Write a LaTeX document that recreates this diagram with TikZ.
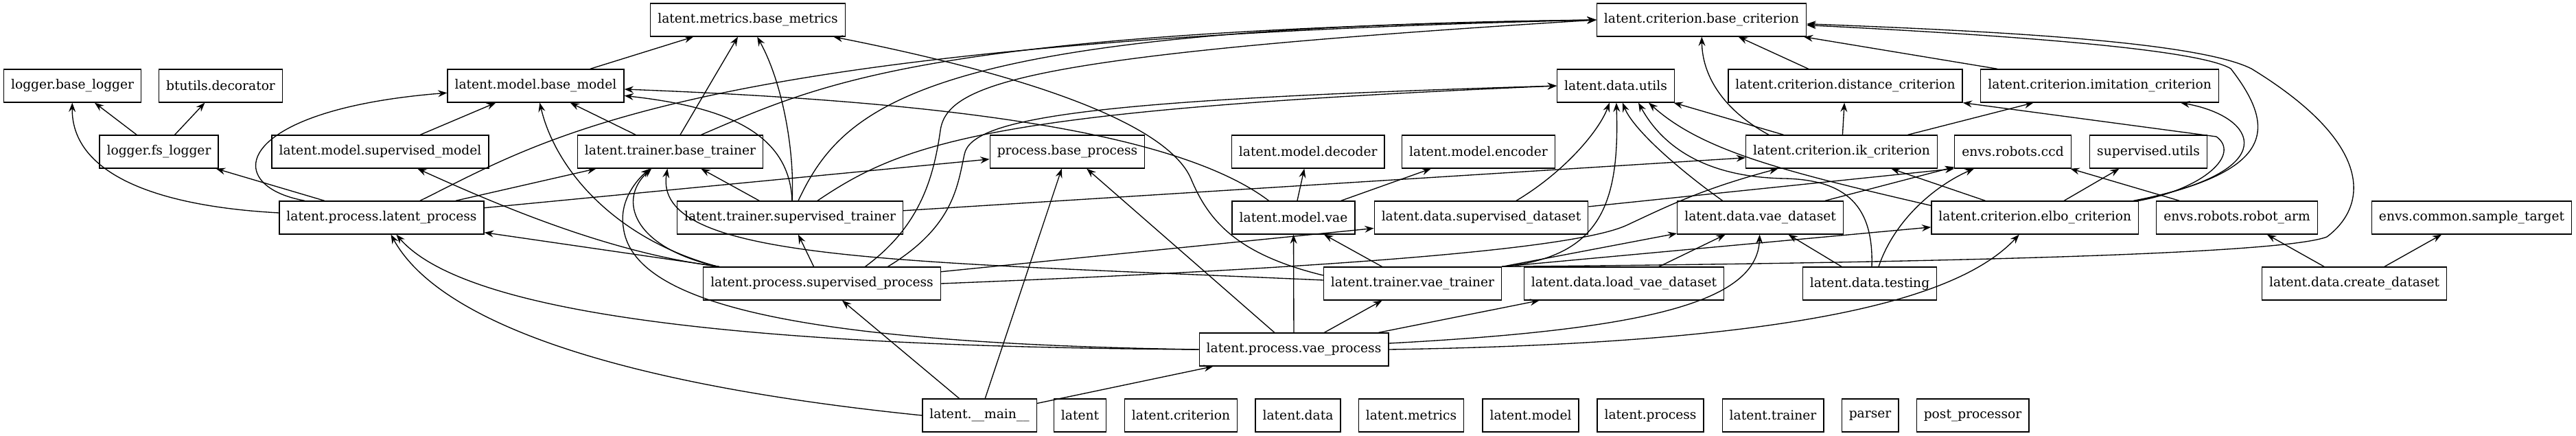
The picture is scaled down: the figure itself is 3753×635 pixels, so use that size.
\documentclass[tikz,border=0pt]{standalone}
\usepackage{fontspec}
\setmainfont{DejaVu Serif}
\usepackage{tikz}
\usetikzlibrary{arrows.meta, calc}

\begin{document}
\begin{tikzpicture}[x=0.75pt, y=-0.75pt,
  mod/.style={draw, line width=1pt, rectangle, inner xsep=7.9pt, minimum height=36pt,
    font=\fontsize{14}{16}\selectfont},
  dep/.style={-{Stealth[length=10pt, width=7.5pt, inset=3.5pt]}, line width=1pt}]
  \useasboundingbox (0,0) rectangle (3753,635);

  % row 0
  \node [mod] (bmet) at (1089.5,29) {latent.metrics.base\_metrics};
  \node [mod] (bcrit) at (2479,29) {latent.criterion.base\_criterion};
  % row 1
  \node [mod] (blog) at (105.6,125) {logger.base\_logger};
  \node [mod] (deco) at (321.5,125) {btutils.decorator};
  \node [mod] (bmod) at (780.5,125) {latent.model.base\_model};
  \node [mod] (dutil) at (2354,125) {latent.data.utils};
  \node [mod] (dist) at (2688.5,125) {latent.criterion.distance\_criterion};
  \node [mod] (imit) at (3059,125) {latent.criterion.imitation\_criterion};
  % row 2
  \node [mod] (fslog) at (231.5,221) {logger.fs\_logger};
  \node [mod] (smod) at (554,221) {latent.model.supervised\_model};
  \node [mod] (btr) at (976.5,221) {latent.trainer.base\_trainer};
  \node [mod] (bproc) at (1555,221) {process.base\_process};
  \node [mod] (dec) at (1905.7,221) {latent.model.decoder};
  \node [mod] (enc) at (2154,221) {latent.model.encoder};
  \node [mod] (ik) at (2683,221) {latent.criterion.ik\_criterion};
  \node [mod] (ccd) at (2932.5,221) {envs.robots.ccd};
  \node [mod] (sutil) at (3130,221) {supervised.utils};
  % row 3
  \node [mod] (lproc) at (556,317) {latent.process.latent\_process};
  \node [mod] (strain) at (1151,317) {latent.trainer.supervised\_trainer};
  \node [mod] (mvae) at (1884.5,317) {latent.model.vae};
  \node [mod] (sdata) at (2158,317) {latent.data.supervised\_dataset};
  \node [mod] (vdata) at (2564.6,317) {latent.data.vae\_dataset};
  \node [mod] (elbo) at (2964.7,317) {latent.criterion.elbo\_criterion};
  \node [mod] (arm) at (3259,317) {envs.robots.robot\_arm};
  \node [mod] (target) at (3601,317) {envs.common.sample\_target};
  % row 4
  \node [mod] (sproc) at (1197.5,413) {latent.process.supervised\_process};
  \node [mod] (vtr) at (2058,413) {latent.trainer.vae\_trainer};
  \node [mod] (lvd) at (2366,413) {latent.data.load\_vae\_dataset};
  \node [mod] (test) at (2724,413) {latent.data.testing};
  \node [mod] (cdata) at (3430,413) {latent.data.create\_dataset};
  % row 5
  \node [mod] (vproc) at (1885,509) {latent.process.vae\_process};
  % row 6
  \node [mod] (main) at (1427,605) {latent.\_\_main\_\_};
  \node [mod] (latent) at (1573.5,605) {latent};
  \node [mod] (crit) at (1720.5,605) {latent.criterion};
  \node [mod] (data) at (1891,605) {latent.data};
  \node [mod] (metr) at (2056,605) {latent.metrics};
  \node [mod] (model) at (2230,605) {latent.model};
  \node [mod] (proc) at (2404.5,605) {latent.process};
  \node [mod] (trainer) at (2583,605) {latent.trainer};
  \node [mod] (parser) at (2724.5,605) {parser};
  \node [mod] (post) at (2874,605) {post\_processor};

  % logger
  \draw [dep] (fslog) -- (blog);
  \draw [dep] (fslog) -- (deco);
  % latent_process
  \draw [dep] ($(lproc.west)+(0,-7)$) .. controls (220,300) and (104,250) .. (blog);
  \draw [dep] (lproc) -- (fslog);
  \draw [dep] ($(lproc.north)+(-112,0)$) .. controls (320,270) and (340,160) .. (bmod);
  \draw [dep] (lproc) -- (btr);
  \draw [dep] ($(lproc.north)+(56,0)$) .. controls (800,200) and (1000,60) .. (bcrit.west);
  \draw [dep] (lproc) -- (bproc);
  \draw [dep] (smod) -- (bmod);
  \draw [dep] (bmod) -- (bmet);
  % base_trainer
  \draw [dep] (btr) -- (bmet);
  \draw [dep] (btr) -- (bmod);
  \draw [dep] ($(btr.north)+(45,0)$) .. controls (1200,120) and (1350,45) .. (bcrit.west);
  % supervised_trainer
  \draw [dep] ($(strain.north)+(3,0)$) .. controls (1158,220) and (1140,120) .. (bmet);
  \draw [dep] ($(strain.north)+(3,0)$) .. controls (1150,190) and (1050,155) .. (bmod);
  \draw [dep] (strain) -- (btr);
  \draw [dep] ($(strain.north)+(12,0)$) .. controls (1230,150) and (1350,40) .. (bcrit.west);
  \draw [dep] ($(strain.north)+(40,0)$) .. controls (1320,205) and (1450,160) .. (dutil.west);
  \draw [dep] (strain) -- (ik);
  % supervised_process
  \draw [dep] (sproc) -- (strain);
  \draw [dep] ($(sproc.north west)+(24,0)$) .. controls (900,370) and (750,310) .. (smod);
  \draw [dep] ($(sproc.north west)+(24,0)$) -- (lproc);
  \draw [dep] ($(sproc.north west)+(22,0)$) .. controls (900,350) and (810,250) .. (bmod);
  \draw [dep] ($(sproc.north west)+(22,0)$) .. controls (920,360) and (900,290) .. (btr);
  \draw [dep] ($(sproc.north)+(63,0)$) .. controls (1340,330) and (1360,260) .. (1370,190)
    .. controls (1380,120) and (1500,80) .. (bcrit.west);
  \draw [dep] ($(sproc.north)+(96,0)$) .. controls (1390,330) and (1395,270) .. (1405,225)
    .. controls (1415,170) and (1600,145) .. (dutil.west);
  \draw [dep] (sproc) -- (sdata);
  \draw [dep] (sproc.east) .. controls (1900,392) and (2290,365) .. (2370,328)
    .. controls (2430,300) and (2480,275) .. (ik);
  % vae_process
  \draw [dep] (vproc.west) .. controls (1150,500) and (920,440) .. (908,330)
    .. controls (902,290) and (930,260) .. (btr);
  \draw [dep] (vproc.west) .. controls (1100,505) and (680,460) .. (lproc);
  \draw [dep] (vproc) -- (bproc);
  \draw [dep] (vproc) -- (mvae);
  \draw [dep] (vproc) -- (vtr);
  \draw [dep] (vproc) -- (lvd);
  \draw [dep] ($(vproc.east)+(0,-9)$) .. controls (2400,480) and (2560,440) .. (vdata);
  \draw [dep] (vproc.east) .. controls (2600,500) and (2850,440) .. (elbo);
  % __main__
  \draw [dep] (main.west) .. controls (900,560) and (640,470) .. (lproc);
  \draw [dep] (main) -- (sproc);
  \draw [dep] (main) -- (bproc);
  \draw [dep] (main) -- (vproc);
  % vae_trainer
  \draw [dep] ($(vtr.west)+(0,-5)$) .. controls (1300,380) and (950,380) .. (btr);
  \draw [dep] ($(vtr.west)+(0,-12)$) .. controls (1800,370) and (1760,320) .. (1735,260)
    .. controls (1700,180) and (1500,110) .. (bmet);
  \draw [dep] (vtr) -- (mvae);
  \draw [dep] (vtr.north east) .. controls (2330,375) and (2360,300) .. (dutil);
  \draw [dep] (vtr) -- (vdata);
  \draw [dep] (vtr.north east) -- (elbo);
  \draw [dep] (vtr.north east) .. controls (2900,382) and (3330,368) .. (3390,345)
    .. controls (3450,300) and (3460,210) .. (3280,100)
    .. controls (3200,60) and (2900,45) .. (bcrit);
  % model.vae
  \draw [dep] ($(mvae.north)+(-36,0)$) .. controls (1700,180) and (1300,145) .. (bmod);
  \draw [dep] (mvae) -- (dec);
  \draw [dep] (mvae) -- (enc);
  % datasets
  \draw [dep] ($(sdata.north)+(51,0)$) .. controls (2280,250) and (2330,190) .. (dutil);
  \draw [dep] (sdata) -- (ccd.south west);
  \draw [dep] (lvd) -- (vdata);
  \draw [dep] ($(vdata.north)+(-55,0)$) .. controls (2450,250) and (2380,190) .. (dutil);
  \draw [dep] (vdata) -- (ccd);
  \draw [dep] (test) -- (vdata);
  \draw [dep] ($(test.north)+(3,0)$) .. controls (2730,300) and (2690,262) .. (2600,260)
    .. controls (2480,258) and (2420,210) .. ($(dutil.south)+(33,0)$);
  \draw [dep] ($(test.north)+(13,0)$) .. controls (2760,320) and (2820,270) .. (ccd);
  % criteria
  \draw [dep] (ik) -- (dutil);
  \draw [dep] ($(ik.north)+(-106,0)$) .. controls (2510,160) and (2480,110) .. (bcrit);
  \draw [dep] (ik) -- (dist);
  \draw [dep] (ik) -- (imit);
  \draw [dep] (dist) -- (bcrit);
  \draw [dep] (imit) -- (bcrit);
  \draw [dep] (elbo) -- (ik);
  \draw [dep] (elbo) -- (sutil);
  \draw [dep] ($(elbo.north west)+(0,7)$) .. controls (2600,250) and (2480,220) .. ($(dutil.south)+(48,0)$);
  \draw [dep] (elbo.north east) .. controls (3210,275) and (3265,225) .. (3229,199) -- (dist.south east);
  \draw [dep] ($(elbo.north east)+(-8,0)$) .. controls (3330,250) and (3290,170) .. ($(imit.south)+(118,0)$);
  \draw [dep] ($(elbo.north east)+(-4,0)$) .. controls (3310,250) and (3320,190) .. (3250,100)
    .. controls (3200,70) and (2900,50) .. (bcrit);
  % robots
  \draw [dep] (arm) -- (ccd);
  \draw [dep] (cdata) -- (arm);
  \draw [dep] (cdata) -- (target);
\end{tikzpicture}
\end{document}
